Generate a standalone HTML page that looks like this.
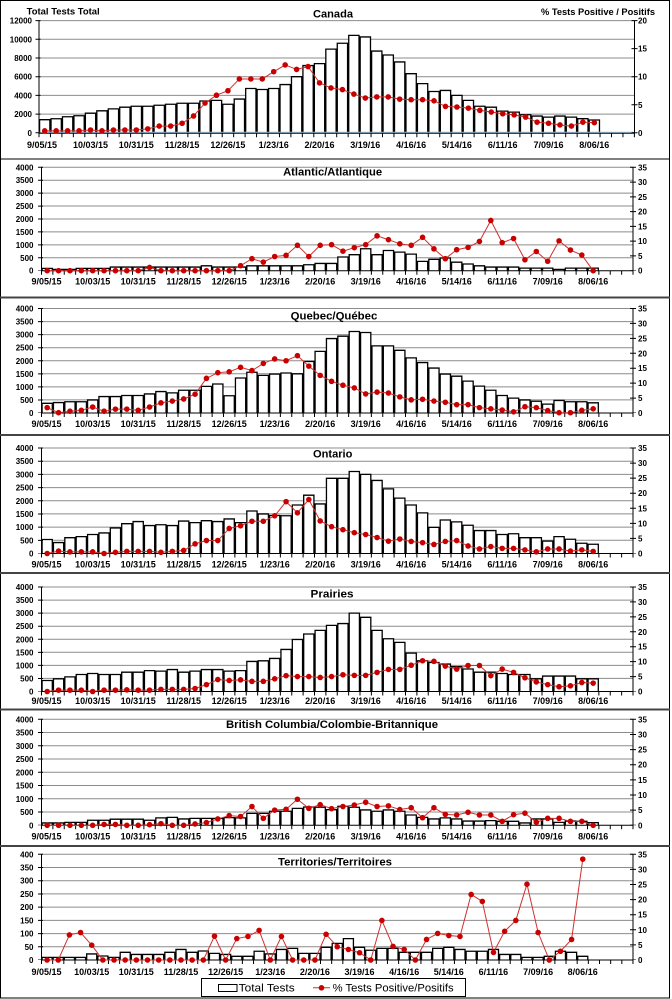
<!DOCTYPE html>
<html><head><meta charset="utf-8">
<style>
html,body{margin:0;padding:0;background:#fff;}
svg{display:block;}
text{font-family:"Liberation Sans",Arial,sans-serif;fill:#000;}
.b{fill:#fff;stroke:#000;stroke-width:1.3;vector-effect:non-scaling-stroke;}
.l{fill:none;stroke:#d03030;stroke-width:1;vector-effect:non-scaling-stroke;}
.d{fill:none;stroke:#c80000;stroke-width:5.6;stroke-linecap:round;vector-effect:non-scaling-stroke;}
.g{fill:none;stroke:#8c8c8c;stroke-width:1;}
.ax{fill:none;stroke:#000;stroke-width:1;}
.yl{font-size:8px;font-weight:bold;text-anchor:end;}
.yr{font-size:8px;font-weight:bold;}
.xl{font-size:9px;font-weight:bold;text-anchor:middle;}
.t{font-size:11.2px;font-weight:bold;text-anchor:middle;}
</style></head>
<body>
<svg width="672" height="999" viewBox="0 0 672 999" xmlns="http://www.w3.org/2000/svg">
<rect x="0" y="0" width="672" height="999" fill="#fff"/>
<!-- frame and dividers -->
<rect x="0.5" y="0.5" width="669" height="997.5" fill="none" stroke="#000" stroke-width="1"/>
<path d="M0 159H670" stroke="#000" stroke-width="1"/>
<path d="M0 297.5H670M0 435H670M0 573H670M0 709.5H670M0 846H670" stroke="#444" stroke-width="2"/>

<!-- ================= CANADA ================= -->
<text x="26.7" y="14.5" font-size="9.2" font-weight="bold" textLength="73" lengthAdjust="spacingAndGlyphs">Total Tests Total</text>
<text x="541" y="15" font-size="9.2" font-weight="bold" textLength="114" lengthAdjust="spacingAndGlyphs">% Tests Positive / Positifs</text>
<text class="t" x="333" y="17.3" font-size="11" textLength="40" lengthAdjust="spacingAndGlyphs">Canada</text>
<path class="g" d="M39 114.1H634.5M39 95.4H634.5M39 76.7H634.5M39 58H634.5M39 39.3H634.5M39 20.6H634.5"/>
<g transform="translate(39 132.8) scale(11.45 -0.935)">
<path class="b" d="M.05 0v14h.9V0M1.05 0v15h.9V0M2.05 0v17.2h.9V0M3.05 0v18.2h.9V0M4.05 0v21h.9V0M5.05 0v23.5h.9V0M6.05 0v25.6h.9V0M7.05 0v27.4h.9V0M8.05 0v28.4h.9V0M9.05 0v28.4h.9V0M10.05 0v29.5h.9V0M11.05 0v30.5h.9V0M12.05 0v31.6h.9V0M13.05 0v31.6h.9V0M14.05 0v34h.9V0M15.05 0v34.7h.9V0M16.05 0v30.5h.9V0M17.05 0v36.1h.9V0M18.05 0v47.4h.9V0M19.05 0v46.3h.9V0M20.05 0v47.4h.9V0M21.05 0v51.6h.9V0M22.05 0v60h.9V0M23.05 0v71.9h.9V0M24.05 0v74h.9V0M25.05 0v89.5h.9V0M26.05 0v95.8h.9V0M27.05 0v104.2h.9V0M28.05 0v102.5h.9V0M29.05 0v87.4h.9V0M30.05 0v83.2h.9V0M31.05 0v75.8h.9V0M32.05 0v63.2h.9V0M33.05 0v52.6h.9V0M34.05 0v44.2h.9V0M35.05 0v45.3h.9V0M36.05 0v40h.9V0M37.05 0v34.7h.9V0M38.05 0v28.4h.9V0M39.05 0v27.4h.9V0M40.05 0v23.2h.9V0M41.05 0v22.1h.9V0M42.05 0v19.3h.9V0M43.05 0v17.9h.9V0M44.05 0v16.8h.9V0M45.05 0v17.9h.9V0M46.05 0v16.8h.9V0M47.05 0v15.1h.9V0M48.05 0v13.7h.9V0"/>
</g>
<path d="M39 132.2H634.5" stroke="#9cc2e5" stroke-width="1"/>
<path class="ax" d="M39 20.6V133.3H634.5V20.6"/>
<path d="M38.5 135.3H635" stroke="#000" stroke-width="4" stroke-dasharray="1 10.45"/>
<path d="M38 20.1V133.3" stroke="#000" stroke-width="5" stroke-dasharray="1 17.7"/>
<path d="M634.5 20.1V133.3" stroke="#000" stroke-width="6" stroke-dasharray="1 27.05"/>
<g transform="translate(39 132.8) scale(11.45 -5.61)">
<polyline class="l" points=".5,.35 1.5,.35 2.5,.35 3.5,.35 4.5,.5 5.5,.35 6.5,.5 7.5,.5 8.5,.5 9.5,.7 10.5,1.2 11.5,1.2 12.5,1.7 13.5,3 14.5,5.3 15.5,6.7 16.5,7.5 17.5,9.6 18.5,9.6 19.5,9.6 20.5,10.9 21.5,12.1 22.5,11.3 23.5,11.8 24.5,8.9 25.5,8 26.5,7.7 27.5,6.9 28.5,6.2 29.5,6.4 30.5,6.4 31.5,6 32.5,5.9 33.5,5.9 34.5,5.7 35.5,4.7 36.5,4.6 37.5,4.4 38.5,4 39.5,3.7 40.5,3.4 41.5,3.2 42.5,2.8 43.5,1.9 44.5,1.7 45.5,1.4 46.5,1.2 47.5,1.9 48.5,1.8"/>
<path class="d" d="M.5 .35h0M1.5 .35h0M2.5 .35h0M3.5 .35h0M4.5 .5h0M5.5 .35h0M6.5 .5h0M7.5 .5h0M8.5 .5h0M9.5 .7h0M10.5 1.2h0M11.5 1.2h0M12.5 1.7h0M13.5 3h0M14.5 5.3h0M15.5 6.7h0M16.5 7.5h0M17.5 9.6h0M18.5 9.6h0M19.5 9.6h0M20.5 10.9h0M21.5 12.1h0M22.5 11.3h0M23.5 11.8h0M24.5 8.9h0M25.5 8h0M26.5 7.7h0M27.5 6.9h0M28.5 6.2h0M29.5 6.4h0M30.5 6.4h0M31.5 6h0M32.5 5.9h0M33.5 5.9h0M34.5 5.7h0M35.5 4.7h0M36.5 4.6h0M37.5 4.4h0M38.5 4h0M39.5 3.7h0M40.5 3.4h0M41.5 3.2h0M42.5 2.8h0M43.5 1.9h0M44.5 1.7h0M45.5 1.4h0M46.5 1.2h0M47.5 1.9h0M48.5 1.8h0"/>
</g>
<text class="yl" font-size="8.5"><tspan x="32" y="135.8">0</tspan><tspan x="32" y="117.1">2000</tspan><tspan x="32" y="98.4">4000</tspan><tspan x="32" y="79.7">6000</tspan><tspan x="32" y="61">8000</tspan><tspan x="32" y="42.3">10000</tspan><tspan x="32" y="23.6">12000</tspan></text>
<text class="yr"><tspan x="638" y="135.8">0</tspan><tspan x="638" y="107.75">5</tspan><tspan x="638" y="79.7">10</tspan><tspan x="638" y="51.65">15</tspan><tspan x="638" y="23.6">20</tspan></text>
<text class="xl" y="147.8"><tspan x="42">9/05/15</tspan><tspan x="90.5">10/03/15</tspan><tspan x="136.3">10/31/15</tspan><tspan x="182.1">11/28/15</tspan><tspan x="227.9">12/26/15</tspan><tspan x="273.7">1/23/16</tspan><tspan x="319.5">2/20/16</tspan><tspan x="365.3">3/19/16</tspan><tspan x="411.1">4/16/16</tspan><tspan x="456.9">5/14/16</tspan><tspan x="502.7">6/11/16</tspan><tspan x="548.5">7/09/16</tspan><tspan x="594.3">8/06/16</tspan></text>

<!-- ================= ATLANTIC ================= -->
<path class="g" d="M41.5 257.8H633M41.5 244.85H633M41.5 231.9H633M41.5 219H633M41.5 206.05H633M41.5 193.1H633M41.5 180.2H633M41.5 167.3H633"/>
<g transform="translate(41.5 270.7) scale(11.375 -2.585)">
<path class="b" d="M.05 0v.9h.9V0M1.05 0v.5h.9V0M2.05 0v.5h.9V0M3.05 0v.9h.9V0M4.05 0v.9h.9V0M5.05 0v.9h.9V0M6.05 0v1.4h.9V0M7.05 0v1.4h.9V0M8.05 0v1.4h.9V0M9.05 0v1.4h.9V0M10.05 0v1.4h.9V0M11.05 0v1.4h.9V0M12.05 0v1.4h.9V0M13.05 0v1.4h.9V0M14.05 0v1.9h.9V0M15.05 0v1.4h.9V0M16.05 0v1.4h.9V0M17.05 0v1.4h.9V0M18.05 0v1.9h.9V0M19.05 0v1.9h.9V0M20.05 0v1.9h.9V0M21.05 0v1.9h.9V0M22.05 0v1.9h.9V0M23.05 0v2.3h.9V0M24.05 0v2.8h.9V0M25.05 0v2.8h.9V0M26.05 0v5.3h.9V0M27.05 0v6.2h.9V0M28.05 0v8.5h.9V0M29.05 0v6.2h.9V0M30.05 0v7.8h.9V0M31.05 0v7.2h.9V0M32.05 0v6.4h.9V0M33.05 0v3.6h.9V0M34.05 0v4.4h.9V0M35.05 0v4.9h.9V0M36.05 0v3.3h.9V0M37.05 0v2.6h.9V0M38.05 0v1.9h.9V0M39.05 0v1.4h.9V0M40.05 0v1.4h.9V0M41.05 0v1.4h.9V0M42.05 0v1h.9V0M43.05 0v1h.9V0M44.05 0v1h.9V0M45.05 0v.5h.9V0M46.05 0v1h.9V0M47.05 0v1h.9V0M48.05 0v1h.9V0"/>
</g>
<path class="ax" d="M41.5 167.3V270.7H633V167.3"/>
<path d="M41 272.7H633.5" stroke="#000" stroke-width="4" stroke-dasharray="1 10.375"/>
<path d="M40.5 166.8V270.7" stroke="#000" stroke-width="5" stroke-dasharray="1 11.925"/>
<path d="M633 166.8V270.7" stroke="#000" stroke-width="6" stroke-dasharray="1 13.771"/>
<g transform="translate(41.5 270.7) scale(11.375 -2.954)">
<polyline class="l" points=".5,0 1.5,0 2.5,0 3.5,0 4.5,0 5.5,0 6.5,0 7.5,0 8.5,0 9.5,1.1 10.5,0 11.5,0 12.5,0 13.5,0 14.5,0 15.5,0 16.5,0 17.5,1.7 18.5,4.05 19.5,2.9 20.5,4.8 21.5,5.2 22.5,8.6 23.5,4.8 24.5,8.6 25.5,8.8 26.5,6.6 27.5,7.8 28.5,8.8 29.5,11.8 30.5,10.5 31.5,9.1 32.5,8.6 33.5,11.3 34.5,7.4 35.5,4.05 36.5,7.1 37.5,7.9 38.5,9.9 39.5,17 40.5,9.5 41.5,10.9 42.5,3.7 43.5,6.5 44.5,3.2 45.5,10.1 46.5,7 47.5,5.3 48.5,0"/>
<path class="d" d="M.5 0h0M1.5 0h0M2.5 0h0M3.5 0h0M4.5 0h0M5.5 0h0M6.5 0h0M7.5 0h0M8.5 0h0M9.5 1.1h0M10.5 0h0M11.5 0h0M12.5 0h0M13.5 0h0M14.5 0h0M15.5 0h0M16.5 0h0M17.5 1.7h0M18.5 4.05h0M19.5 2.9h0M20.5 4.8h0M21.5 5.2h0M22.5 8.6h0M23.5 4.8h0M24.5 8.6h0M25.5 8.8h0M26.5 6.6h0M27.5 7.8h0M28.5 8.8h0M29.5 11.8h0M30.5 10.5h0M31.5 9.1h0M32.5 8.6h0M33.5 11.3h0M34.5 7.4h0M35.5 4.05h0M36.5 7.1h0M37.5 7.9h0M38.5 9.9h0M39.5 17h0M40.5 9.5h0M41.5 10.9h0M42.5 3.7h0M43.5 6.5h0M44.5 3.2h0M45.5 10.1h0M46.5 7h0M47.5 5.3h0M48.5 0h0"/>
</g>
<text class="t" x="332.6" y="175.5" textLength="99" lengthAdjust="spacingAndGlyphs">Atlantic/Atlantique</text>
<text class="yl"><tspan x="33.5" y="273.7">0</tspan><tspan x="33.5" y="260.8">500</tspan><tspan x="33.5" y="247.85">1000</tspan><tspan x="33.5" y="234.9">1500</tspan><tspan x="33.5" y="222">2000</tspan><tspan x="33.5" y="209.05">2500</tspan><tspan x="33.5" y="196.1">3000</tspan><tspan x="33.5" y="183.2">3500</tspan><tspan x="33.5" y="170.3">4000</tspan></text>
<text class="yr"><tspan x="638" y="273.7">0</tspan><tspan x="638" y="258.9">5</tspan><tspan x="638" y="244.2">10</tspan><tspan x="638" y="229.4">15</tspan><tspan x="638" y="214.6">20</tspan><tspan x="638" y="199.9">25</tspan><tspan x="638" y="185.1">30</tspan><tspan x="638" y="170.3">35</tspan></text>
<text class="xl" y="284.4"><tspan x="46.5">9/05/15</tspan><tspan x="92.7">10/03/15</tspan><tspan x="138.2">10/31/15</tspan><tspan x="183.7">11/28/15</tspan><tspan x="229.2">12/26/15</tspan><tspan x="274.7">1/23/16</tspan><tspan x="320.2">2/20/16</tspan><tspan x="365.7">3/19/16</tspan><tspan x="411.2">4/16/16</tspan><tspan x="456.7">5/14/16</tspan><tspan x="502.2">6/11/16</tspan><tspan x="547.7">7/09/16</tspan><tspan x="593.2">8/06/16</tspan></text>

<!-- ================= QUEBEC ================= -->
<path class="g" d="M41.5 399.9H633M41.5 386.9H633M41.5 373.8H633M41.5 360.75H633M41.5 347.7H633M41.5 334.6H633M41.5 321.6H633M41.5 308.5H633"/>
<g transform="translate(41.5 413) scale(11.375 -2.6125)">
<path class="b" d="M.05 0v3.7h.9V0M1.05 0v4h.9V0M2.05 0v4.3h.9V0M3.05 0v4.3h.9V0M4.05 0v5h.9V0M5.05 0v6.3h.9V0M6.05 0v6.3h.9V0M7.05 0v6.7h.9V0M8.05 0v6.7h.9V0M9.05 0v7.3h.9V0M10.05 0v8.2h.9V0M11.05 0v7.7h.9V0M12.05 0v8.7h.9V0M13.05 0v8.7h.9V0M14.05 0v10.2h.9V0M15.05 0v11.1h.9V0M16.05 0v6.6h.9V0M17.05 0v13.4h.9V0M18.05 0v15.6h.9V0M19.05 0v14.4h.9V0M20.05 0v14.9h.9V0M21.05 0v15.3h.9V0M22.05 0v15h.9V0M23.05 0v19.7h.9V0M24.05 0v23.6h.9V0M25.05 0v28.5h.9V0M26.05 0v29.4h.9V0M27.05 0v31.2h.9V0M28.05 0v30.8h.9V0M29.05 0v25.7h.9V0M30.05 0v25.7h.9V0M31.05 0v24h.9V0M32.05 0v21.1h.9V0M33.05 0v19.3h.9V0M34.05 0v17.2h.9V0M35.05 0v14.9h.9V0M36.05 0v14.1h.9V0M37.05 0v12.2h.9V0M38.05 0v10.3h.9V0M39.05 0v8.7h.9V0M40.05 0v6.7h.9V0M41.05 0v5.7h.9V0M42.05 0v5h.9V0M43.05 0v4.5h.9V0M44.05 0v3.4h.9V0M45.05 0v4.8h.9V0M46.05 0v4.3h.9V0M47.05 0v4.3h.9V0M48.05 0v3.9h.9V0"/>
</g>
<path class="ax" d="M41.5 308.5V413H633V308.5"/>
<path d="M41 415H633.5" stroke="#000" stroke-width="4" stroke-dasharray="1 10.375"/>
<path d="M40.5 308V413" stroke="#000" stroke-width="5" stroke-dasharray="1 12.0625"/>
<path d="M633 308V413" stroke="#000" stroke-width="6" stroke-dasharray="1 13.929"/>
<g transform="translate(41.5 413) scale(11.375 -2.986)">
<polyline class="l" points=".5,1.8 1.5,.1 2.5,.6 3.5,.9 4.5,2 5.5,.6 6.5,1.3 7.5,1.3 8.5,.9 9.5,2 10.5,3.4 11.5,4 12.5,4.7 13.5,6.3 14.5,11.6 15.5,13.5 16.5,13.8 17.5,15.3 18.5,14.2 19.5,16.6 20.5,18.1 21.5,17.5 22.5,19.2 23.5,15.7 24.5,12.6 25.5,10.6 26.5,9.3 27.5,8.4 28.5,6.4 29.5,7 30.5,6.7 31.5,5.4 32.5,4.4 33.5,4.6 34.5,4 35.5,3.6 36.5,2.8 37.5,2.8 38.5,1.8 39.5,1.4 40.5,1 41.5,.4 42.5,2.1 43.5,1.8 44.5,.8 45.5,.1 46.5,.1 47.5,.9 48.5,1.4"/>
<path class="d" d="M.5 1.8h0M1.5 .1h0M2.5 .6h0M3.5 .9h0M4.5 2h0M5.5 .6h0M6.5 1.3h0M7.5 1.3h0M8.5 .9h0M9.5 2h0M10.5 3.4h0M11.5 4h0M12.5 4.7h0M13.5 6.3h0M14.5 11.6h0M15.5 13.5h0M16.5 13.8h0M17.5 15.3h0M18.5 14.2h0M19.5 16.6h0M20.5 18.1h0M21.5 17.5h0M22.5 19.2h0M23.5 15.7h0M24.5 12.6h0M25.5 10.6h0M26.5 9.3h0M27.5 8.4h0M28.5 6.4h0M29.5 7h0M30.5 6.7h0M31.5 5.4h0M32.5 4.4h0M33.5 4.6h0M34.5 4h0M35.5 3.6h0M36.5 2.8h0M37.5 2.8h0M38.5 1.8h0M39.5 1.4h0M40.5 1h0M41.5 .4h0M42.5 2.1h0M43.5 1.8h0M44.5 .8h0M45.5 .1h0M46.5 .1h0M47.5 .9h0M48.5 1.4h0"/>
</g>
<text class="t" x="334" y="319.3" textLength="86.6" lengthAdjust="spacingAndGlyphs">Quebec/Québec</text>
<text class="yl"><tspan x="33.5" y="416">0</tspan><tspan x="33.5" y="402.9">500</tspan><tspan x="33.5" y="389.9">1000</tspan><tspan x="33.5" y="376.8">1500</tspan><tspan x="33.5" y="363.75">2000</tspan><tspan x="33.5" y="350.7">2500</tspan><tspan x="33.5" y="337.6">3000</tspan><tspan x="33.5" y="324.6">3500</tspan><tspan x="33.5" y="311.5">4000</tspan></text>
<text class="yr"><tspan x="638" y="416">0</tspan><tspan x="638" y="401.1">5</tspan><tspan x="638" y="386.1">10</tspan><tspan x="638" y="371.2">15</tspan><tspan x="638" y="356.3">20</tspan><tspan x="638" y="341.4">25</tspan><tspan x="638" y="326.4">30</tspan><tspan x="638" y="311.5">35</tspan></text>
<text class="xl" y="427"><tspan x="46.5">9/05/15</tspan><tspan x="92.7">10/03/15</tspan><tspan x="138.2">10/31/15</tspan><tspan x="183.7">11/28/15</tspan><tspan x="229.2">12/26/15</tspan><tspan x="274.7">1/23/16</tspan><tspan x="320.2">2/20/16</tspan><tspan x="365.7">3/19/16</tspan><tspan x="411.2">4/16/16</tspan><tspan x="456.7">5/14/16</tspan><tspan x="502.2">6/11/16</tspan><tspan x="547.7">7/09/16</tspan><tspan x="593.2">8/06/16</tspan></text>

<!-- ================= ONTARIO ================= -->
<path class="g" d="M41.5 540.3H633M41.5 527.1H633M41.5 513.9H633M41.5 500.75H633M41.5 487.6H633M41.5 474.4H633M41.5 461.2H633M41.5 448H633"/>
<g transform="translate(41.5 553.5) scale(11.375 -2.6375)">
<path class="b" d="M.05 0v5.3h.9V0M1.05 0v4.15h.9V0M2.05 0v6h.9V0M3.05 0v6.4h.9V0M4.05 0v7.2h.9V0M5.05 0v7.8h.9V0M6.05 0v9.7h.9V0M7.05 0v11.3h.9V0M8.05 0v12.1h.9V0M9.05 0v10.6h.9V0M10.05 0v10.9h.9V0M11.05 0v10.6h.9V0M12.05 0v12.3h.9V0M13.05 0v11.7h.9V0M14.05 0v12.45h.9V0M15.05 0v12.1h.9V0M16.05 0v13.1h.9V0M17.05 0v11.7h.9V0M18.05 0v16.1h.9V0M19.05 0v15h.9V0M20.05 0v14.4h.9V0M21.05 0v14.3h.9V0M22.05 0v18.4h.9V0M23.05 0v22.1h.9V0M24.05 0v18.8h.9V0M25.05 0v28.5h.9V0M26.05 0v28.5h.9V0M27.05 0v31.1h.9V0M28.05 0v30h.9V0M29.05 0v27.7h.9V0M30.05 0v24.5h.9V0M31.05 0v21h.9V0M32.05 0v18.4h.9V0M33.05 0v15.4h.9V0M34.05 0v9.9h.9V0M35.05 0v12.7h.9V0M36.05 0v12h.9V0M37.05 0v10.7h.9V0M38.05 0v8.7h.9V0M39.05 0v8.7h.9V0M40.05 0v7.2h.9V0M41.05 0v7.5h.9V0M42.05 0v6h.9V0M43.05 0v6h.9V0M44.05 0v4.7h.9V0M45.05 0v6.4h.9V0M46.05 0v5.4h.9V0M47.05 0v3.9h.9V0M48.05 0v3.5h.9V0"/>
</g>
<path class="ax" d="M41.5 448V553.5H633V448"/>
<path d="M41 555.5H633.5" stroke="#000" stroke-width="4" stroke-dasharray="1 10.375"/>
<path d="M40.5 447.5V553.5" stroke="#000" stroke-width="5" stroke-dasharray="1 12.1875"/>
<path d="M633 447.5V553.5" stroke="#000" stroke-width="6" stroke-dasharray="1 14.071"/>
<g transform="translate(41.5 553.5) scale(11.375 -3.014)">
<polyline class="l" points=".5,0 1.5,.8 2.5,.55 3.5,.55 4.5,.55 5.5,0 6.5,.4 7.5,.7 8.5,.7 9.5,.7 10.5,.4 11.5,.7 12.5,1 13.5,3.2 14.5,4.3 15.5,4.3 16.5,8.3 17.5,9.2 18.5,10.7 19.5,10.7 20.5,12.5 21.5,17.2 22.5,13.5 23.5,17.9 24.5,10.8 25.5,8.9 26.5,7.9 27.5,6.9 28.5,6.3 29.5,5.3 30.5,4.1 31.5,4.8 32.5,4 33.5,3.6 34.5,3 35.5,4 36.5,4.3 37.5,2.5 38.5,1.5 39.5,2.3 40.5,1.7 41.5,1.7 42.5,1.2 43.5,.55 44.5,1.5 45.5,1.5 46.5,.8 47.5,1.2 48.5,.7"/>
<path class="d" d="M.5 0h0M1.5 .8h0M2.5 .55h0M3.5 .55h0M4.5 .55h0M5.5 0h0M6.5 .4h0M7.5 .7h0M8.5 .7h0M9.5 .7h0M10.5 .4h0M11.5 .7h0M12.5 1h0M13.5 3.2h0M14.5 4.3h0M15.5 4.3h0M16.5 8.3h0M17.5 9.2h0M18.5 10.7h0M19.5 10.7h0M20.5 12.5h0M21.5 17.2h0M22.5 13.5h0M23.5 17.9h0M24.5 10.8h0M25.5 8.9h0M26.5 7.9h0M27.5 6.9h0M28.5 6.3h0M29.5 5.3h0M30.5 4.1h0M31.5 4.8h0M32.5 4h0M33.5 3.6h0M34.5 3h0M35.5 4h0M36.5 4.3h0M37.5 2.5h0M38.5 1.5h0M39.5 2.3h0M40.5 1.7h0M41.5 1.7h0M42.5 1.2h0M43.5 .55h0M44.5 1.5h0M45.5 1.5h0M46.5 .8h0M47.5 1.2h0M48.5 .7h0"/>
</g>
<text class="t" x="332.7" y="457.3" textLength="39.4" lengthAdjust="spacingAndGlyphs">Ontario</text>
<text class="yl"><tspan x="33.5" y="556.5">0</tspan><tspan x="33.5" y="543.3">500</tspan><tspan x="33.5" y="530.1">1000</tspan><tspan x="33.5" y="516.9">1500</tspan><tspan x="33.5" y="503.75">2000</tspan><tspan x="33.5" y="490.6">2500</tspan><tspan x="33.5" y="477.4">3000</tspan><tspan x="33.5" y="464.2">3500</tspan><tspan x="33.5" y="451">4000</tspan></text>
<text class="yr"><tspan x="638" y="556.5">0</tspan><tspan x="638" y="541.4">5</tspan><tspan x="638" y="526.4">10</tspan><tspan x="638" y="511.3">15</tspan><tspan x="638" y="496.2">20</tspan><tspan x="638" y="481.1">25</tspan><tspan x="638" y="466.1">30</tspan><tspan x="638" y="451">35</tspan></text>
<text class="xl" y="567.6"><tspan x="46.5">9/05/15</tspan><tspan x="92.7">10/03/15</tspan><tspan x="138.2">10/31/15</tspan><tspan x="183.7">11/28/15</tspan><tspan x="229.2">12/26/15</tspan><tspan x="274.7">1/23/16</tspan><tspan x="320.2">2/20/16</tspan><tspan x="365.7">3/19/16</tspan><tspan x="411.2">4/16/16</tspan><tspan x="456.7">5/14/16</tspan><tspan x="502.2">6/11/16</tspan><tspan x="547.7">7/09/16</tspan><tspan x="593.2">8/06/16</tspan></text>

<!-- ================= PRAIRIES ================= -->
<path class="g" d="M41.5 678.4H633M41.5 665.4H633M41.5 652.3H633M41.5 639.25H633M41.5 626.2H633M41.5 613.1H633M41.5 600.1H633M41.5 587H633"/>
<g transform="translate(41.5 691.5) scale(11.375 -2.6125)">
<path class="b" d="M.05 0v4.2h.9V0M1.05 0v4.85h.9V0M2.05 0v5.6h.9V0M3.05 0v6.5h.9V0M4.05 0v6.9h.9V0M5.05 0v6.5h.9V0M6.05 0v6.5h.9V0M7.05 0v7.4h.9V0M8.05 0v7.4h.9V0M9.05 0v8h.9V0M10.05 0v7.8h.9V0M11.05 0v8.4h.9V0M12.05 0v7.4h.9V0M13.05 0v7.8h.9V0M14.05 0v8.4h.9V0M15.05 0v8.4h.9V0M16.05 0v7.8h.9V0M17.05 0v8h.9V0M18.05 0v11.5h.9V0M19.05 0v11.75h.9V0M20.05 0v12.65h.9V0M21.05 0v16.1h.9V0M22.05 0v19.9h.9V0M23.05 0v22h.9V0M24.05 0v23.4h.9V0M25.05 0v25.3h.9V0M26.05 0v26h.9V0M27.05 0v30h.9V0M28.05 0v28.4h.9V0M29.05 0v23.4h.9V0M30.05 0v20.2h.9V0M31.05 0v18.8h.9V0M32.05 0v14.7h.9V0M33.05 0v11.75h.9V0M34.05 0v11.1h.9V0M35.05 0v10.5h.9V0M36.05 0v9.5h.9V0M37.05 0v8.6h.9V0M38.05 0v7.4h.9V0M39.05 0v7.4h.9V0M40.05 0v6.9h.9V0M41.05 0v6.5h.9V0M42.05 0v6.5h.9V0M43.05 0v4.85h.9V0M44.05 0v5.9h.9V0M45.05 0v5.9h.9V0M46.05 0v5.9h.9V0M47.05 0v4.85h.9V0M48.05 0v4.85h.9V0"/>
</g>
<path class="ax" d="M41.5 587V691.5H633V587"/>
<path d="M41 693.5H633.5" stroke="#000" stroke-width="4" stroke-dasharray="1 10.375"/>
<path d="M40.5 586.5V691.5" stroke="#000" stroke-width="5" stroke-dasharray="1 12.0625"/>
<path d="M633 586.5V691.5" stroke="#000" stroke-width="6" stroke-dasharray="1 13.929"/>
<g transform="translate(41.5 691.5) scale(11.375 -2.986)">
<polyline class="l" points=".5,0 1.5,.45 2.5,.45 3.5,.45 4.5,0 5.5,.45 6.5,.45 7.5,.55 8.5,.45 9.5,.45 10.5,.7 11.5,.7 12.5,.7 13.5,1 14.5,2.3 15.5,4 16.5,3.7 17.5,3.9 18.5,3.4 19.5,3.4 20.5,4.25 21.5,5.3 22.5,5 23.5,5 24.5,4.7 25.5,5 26.5,5.6 27.5,5.4 28.5,5.4 29.5,6.4 30.5,7.4 31.5,7.4 32.5,8.8 33.5,10.3 34.5,10.1 35.5,8.5 36.5,7.5 37.5,8.7 38.5,8.7 39.5,5.3 40.5,7.5 41.5,6.4 42.5,4.6 43.5,3.2 44.5,2.3 45.5,1.6 46.5,1.9 47.5,3 48.5,2.8"/>
<path class="d" d="M.5 0h0M1.5 .45h0M2.5 .45h0M3.5 .45h0M4.5 0h0M5.5 .45h0M6.5 .45h0M7.5 .55h0M8.5 .45h0M9.5 .45h0M10.5 .7h0M11.5 .7h0M12.5 .7h0M13.5 1h0M14.5 2.3h0M15.5 4h0M16.5 3.7h0M17.5 3.9h0M18.5 3.4h0M19.5 3.4h0M20.5 4.25h0M21.5 5.3h0M22.5 5h0M23.5 5h0M24.5 4.7h0M25.5 5h0M26.5 5.6h0M27.5 5.4h0M28.5 5.4h0M29.5 6.4h0M30.5 7.4h0M31.5 7.4h0M32.5 8.8h0M33.5 10.3h0M34.5 10.1h0M35.5 8.5h0M36.5 7.5h0M37.5 8.7h0M38.5 8.7h0M39.5 5.3h0M40.5 7.5h0M41.5 6.4h0M42.5 4.6h0M43.5 3.2h0M44.5 2.3h0M45.5 1.6h0M46.5 1.9h0M47.5 3h0M48.5 2.8h0"/>
</g>
<text class="t" x="332" y="597.5" textLength="43" lengthAdjust="spacingAndGlyphs">Prairies</text>
<text class="yl"><tspan x="33.5" y="694.5">0</tspan><tspan x="33.5" y="681.4">500</tspan><tspan x="33.5" y="668.4">1000</tspan><tspan x="33.5" y="655.3">1500</tspan><tspan x="33.5" y="642.25">2000</tspan><tspan x="33.5" y="629.2">2500</tspan><tspan x="33.5" y="616.1">3000</tspan><tspan x="33.5" y="603.1">3500</tspan><tspan x="33.5" y="590">4000</tspan></text>
<text class="yr"><tspan x="638" y="694.5">0</tspan><tspan x="638" y="679.6">5</tspan><tspan x="638" y="664.6">10</tspan><tspan x="638" y="649.7">15</tspan><tspan x="638" y="634.8">20</tspan><tspan x="638" y="619.9">25</tspan><tspan x="638" y="604.9">30</tspan><tspan x="638" y="590">35</tspan></text>
<text class="xl" y="704"><tspan x="46.5">9/05/15</tspan><tspan x="92.7">10/03/15</tspan><tspan x="138.2">10/31/15</tspan><tspan x="183.7">11/28/15</tspan><tspan x="229.2">12/26/15</tspan><tspan x="274.7">1/23/16</tspan><tspan x="320.2">2/20/16</tspan><tspan x="365.7">3/19/16</tspan><tspan x="411.2">4/16/16</tspan><tspan x="456.7">5/14/16</tspan><tspan x="502.2">6/11/16</tspan><tspan x="547.7">7/09/16</tspan><tspan x="593.2">8/06/16</tspan></text>

<!-- ================= BRITISH COLUMBIA ================= -->
<path class="g" d="M41.5 812.05H633M41.5 798.8H633M41.5 785.55H633M41.5 772.3H633M41.5 759.05H633M41.5 745.8H633M41.5 732.55H633M41.5 719.3H633"/>
<g transform="translate(41.5 825.3) scale(11.375 -2.65)">
<path class="b" d="M.05 0v.9h.9V0M1.05 0v.9h.9V0M2.05 0v1.1h.9V0M3.05 0v1.1h.9V0M4.05 0v1.9h.9V0M5.05 0v1.9h.9V0M6.05 0v2.3h.9V0M7.05 0v2.3h.9V0M8.05 0v2.3h.9V0M9.05 0v1.9h.9V0M10.05 0v2.8h.9V0M11.05 0v3h.9V0M12.05 0v2.4h.9V0M13.05 0v2.6h.9V0M14.05 0v2.6h.9V0M15.05 0v2.6h.9V0M16.05 0v2.9h.9V0M17.05 0v2.8h.9V0M18.05 0v4.5h.9V0M19.05 0v4.5h.9V0M20.05 0v5.3h.9V0M21.05 0v5.3h.9V0M22.05 0v6.4h.9V0M23.05 0v6.9h.9V0M24.05 0v6.8h.9V0M25.05 0v5.9h.9V0M26.05 0v7.2h.9V0M27.05 0v6.8h.9V0M28.05 0v5.8h.9V0M29.05 0v5.3h.9V0M30.05 0v5.8h.9V0M31.05 0v5.3h.9V0M32.05 0v3.9h.9V0M33.05 0v3h.9V0M34.05 0v2.4h.9V0M35.05 0v2.8h.9V0M36.05 0v2.4h.9V0M37.05 0v1.6h.9V0M38.05 0v1.6h.9V0M39.05 0v1.75h.9V0M40.05 0v1.5h.9V0M41.05 0v1.5h.9V0M42.05 0v.9h.9V0M43.05 0v2.4h.9V0M44.05 0v2.4h.9V0M45.05 0v1.1h.9V0M46.05 0v1.6h.9V0M47.05 0v1.5h.9V0M48.05 0v1h.9V0"/>
</g>
<path class="ax" d="M41.5 719.3V825.3H633V719.3"/>
<path d="M41 827.3H633.5" stroke="#000" stroke-width="4" stroke-dasharray="1 10.375"/>
<path d="M40.5 718.8V825.3" stroke="#000" stroke-width="5" stroke-dasharray="1 12.25"/>
<path d="M633 718.8V825.3" stroke="#000" stroke-width="6" stroke-dasharray="1 14.143"/>
<g transform="translate(41.5 825.3) scale(11.375 -3.029)">
<polyline class="l" points=".5,0 1.5,0 2.5,0 3.5,0 4.5,0 5.5,.3 6.5,.3 7.5,0 8.5,0 9.5,.2 10.5,.55 11.5,0 12.5,0 13.5,.45 14.5,.9 15.5,2.1 16.5,3.2 17.5,2.9 18.5,6.2 19.5,2.3 20.5,5 21.5,5.3 22.5,8.6 23.5,5.6 24.5,6.8 25.5,5.5 26.5,6.2 27.5,6.7 28.5,7.6 29.5,6.2 30.5,6.4 31.5,5.2 32.5,5.8 33.5,2.5 34.5,5.8 35.5,3.6 36.5,3.4 37.5,4.3 38.5,3.4 39.5,3.4 40.5,1.3 41.5,3.5 42.5,4 43.5,1 44.5,2.3 45.5,2.3 46.5,1.3 47.5,1.3 48.5,0"/>
<path class="d" d="M.5 0h0M1.5 0h0M2.5 0h0M3.5 0h0M4.5 0h0M5.5 .3h0M6.5 .3h0M7.5 0h0M8.5 0h0M9.5 .2h0M10.5 .55h0M11.5 0h0M12.5 0h0M13.5 .45h0M14.5 .9h0M15.5 2.1h0M16.5 3.2h0M17.5 2.9h0M18.5 6.2h0M19.5 2.3h0M20.5 5h0M21.5 5.3h0M22.5 8.6h0M23.5 5.6h0M24.5 6.8h0M25.5 5.5h0M26.5 6.2h0M27.5 6.7h0M28.5 7.6h0M29.5 6.2h0M30.5 6.4h0M31.5 5.2h0M32.5 5.8h0M33.5 2.5h0M34.5 5.8h0M35.5 3.6h0M36.5 3.4h0M37.5 4.3h0M38.5 3.4h0M39.5 3.4h0M40.5 1.3h0M41.5 3.5h0M42.5 4h0M43.5 1h0M44.5 2.3h0M45.5 2.3h0M46.5 1.3h0M47.5 1.3h0M48.5 0h0"/>
</g>
<text class="t" x="332" y="728" textLength="212" lengthAdjust="spacingAndGlyphs">British Columbia/Colombie-Britannique</text>
<text class="yl"><tspan x="33.5" y="828.3">0</tspan><tspan x="33.5" y="815.05">500</tspan><tspan x="33.5" y="801.8">1000</tspan><tspan x="33.5" y="788.55">1500</tspan><tspan x="33.5" y="775.3">2000</tspan><tspan x="33.5" y="762.05">2500</tspan><tspan x="33.5" y="748.8">3000</tspan><tspan x="33.5" y="735.55">3500</tspan><tspan x="33.5" y="722.3">4000</tspan></text>
<text class="yr"><tspan x="638" y="828.3">0</tspan><tspan x="638" y="813.2">5</tspan><tspan x="638" y="798">10</tspan><tspan x="638" y="782.9">15</tspan><tspan x="638" y="767.7">20</tspan><tspan x="638" y="752.6">25</tspan><tspan x="638" y="737.4">30</tspan><tspan x="638" y="722.3">35</tspan></text>
<text class="xl" y="839.3"><tspan x="46.5">9/05/15</tspan><tspan x="92.7">10/03/15</tspan><tspan x="138.2">10/31/15</tspan><tspan x="183.7">11/28/15</tspan><tspan x="229.2">12/26/15</tspan><tspan x="274.7">1/23/16</tspan><tspan x="320.2">2/20/16</tspan><tspan x="365.7">3/19/16</tspan><tspan x="411.2">4/16/16</tspan><tspan x="456.7">5/14/16</tspan><tspan x="502.2">6/11/16</tspan><tspan x="547.7">7/09/16</tspan><tspan x="593.2">8/06/16</tspan></text>

<!-- ================= TERRITORIES ================= -->
<path class="g" d="M41.5 946.8H633M41.5 933.6H633M41.5 920.4H633M41.5 907.15H633M41.5 893.9H633M41.5 880.7H633M41.5 867.5H633M41.5 854.3H633"/>
<g transform="translate(41.5 960) scale(11.16 -0.26425)">
<path class="b" d="M.05 0v10h.9V0M1.05 0v10h.9V0M2.05 0v10h.9V0M3.05 0v10h.9V0M4.05 0v23h.9V0M5.05 0v15h.9V0M6.05 0v10h.9V0M7.05 0v29h.9V0M8.05 0v21h.9V0M9.05 0v21h.9V0M10.05 0v21h.9V0M11.05 0v29h.9V0M12.05 0v40h.9V0M13.05 0v29h.9V0M14.05 0v34h.9V0M15.05 0v25h.9V0M16.05 0v21h.9V0M17.05 0v14h.9V0M18.05 0v14h.9V0M19.05 0v33h.9V0M20.05 0v23h.9V0M21.05 0v40h.9V0M22.05 0v44h.9V0M23.05 0v25h.9V0M24.05 0v25h.9V0M25.05 0v48h.9V0M26.05 0v63h.9V0M27.05 0v81h.9V0M28.05 0v48h.9V0M29.05 0v37h.9V0M30.05 0v44h.9V0M31.05 0v44h.9V0M32.05 0v29h.9V0M33.05 0v29h.9V0M34.05 0v29h.9V0M35.05 0v44h.9V0M36.05 0v48h.9V0M37.05 0v40h.9V0M38.05 0v33h.9V0M39.05 0v33h.9V0M40.05 0v40h.9V0M41.05 0v21h.9V0M42.05 0v21h.9V0M43.05 0v10h.9V0M44.05 0v10h.9V0M45.05 0v14h.9V0M46.05 0v33h.9V0M47.05 0v29h.9V0M48.05 0v14h.9V0"/>
</g>
<path class="ax" d="M41.5 854.3V960H633V854.3"/>
<path d="M41 962H633.5" stroke="#000" stroke-width="4" stroke-dasharray="1 10.16"/>
<path d="M40.5 853.8V960" stroke="#000" stroke-width="5" stroke-dasharray="1 12.2125"/>
<path d="M633 853.8V960" stroke="#000" stroke-width="6" stroke-dasharray="1 14.1"/>
<g transform="translate(41.5 960) scale(11.16 -3.02)">
<polyline class="l" points=".5,0 1.5,0 2.5,8.3 3.5,9.1 4.5,4.9 5.5,0 6.5,0 7.5,0 8.5,0 9.5,0 10.5,0 11.5,0 12.5,0 13.5,0 14.5,0 15.5,7.9 16.5,0 17.5,7.1 18.5,7.8 19.5,9.8 20.5,0 21.5,7.8 22.5,0 23.5,0 24.5,0 25.5,8.5 26.5,4.4 27.5,3.5 28.5,2.4 29.5,0 30.5,13.1 31.5,4.5 32.5,3.5 33.5,0 34.5,6.8 35.5,8.8 36.5,8.1 37.5,7.8 38.5,21.7 39.5,19.4 40.5,2.5 41.5,9.5 42.5,13.1 43.5,25.1 44.5,9.1 45.5,0 46.5,2.9 47.5,6.8 48.5,33.4"/>
<path class="d" d="M.5 0h0M1.5 0h0M2.5 8.3h0M3.5 9.1h0M4.5 4.9h0M5.5 0h0M6.5 0h0M7.5 0h0M8.5 0h0M9.5 0h0M10.5 0h0M11.5 0h0M12.5 0h0M13.5 0h0M14.5 0h0M15.5 7.9h0M16.5 0h0M17.5 7.1h0M18.5 7.8h0M19.5 9.8h0M20.5 0h0M21.5 7.8h0M22.5 0h0M23.5 0h0M24.5 0h0M25.5 8.5h0M26.5 4.4h0M27.5 3.5h0M28.5 2.4h0M29.5 0h0M30.5 13.1h0M31.5 4.5h0M32.5 3.5h0M33.5 0h0M34.5 6.8h0M35.5 8.8h0M36.5 8.1h0M37.5 7.8h0M38.5 21.7h0M39.5 19.4h0M40.5 2.5h0M41.5 9.5h0M42.5 13.1h0M43.5 25.1h0M44.5 9.1h0M45.5 0h0M46.5 2.9h0M47.5 6.8h0M48.5 33.4h0"/>
</g>
<text class="t" x="335" y="865.6" textLength="114" lengthAdjust="spacingAndGlyphs">Territories/Territoires</text>
<text class="yl"><tspan x="33.5" y="963">0</tspan><tspan x="33.5" y="949.8">50</tspan><tspan x="33.5" y="936.6">100</tspan><tspan x="33.5" y="923.4">150</tspan><tspan x="33.5" y="910.15">200</tspan><tspan x="33.5" y="896.9">250</tspan><tspan x="33.5" y="883.7">300</tspan><tspan x="33.5" y="870.5">350</tspan><tspan x="33.5" y="857.3">400</tspan></text>
<text class="yr"><tspan x="638" y="963">0</tspan><tspan x="638" y="947.9">5</tspan><tspan x="638" y="932.8">10</tspan><tspan x="638" y="917.7">15</tspan><tspan x="638" y="902.6">20</tspan><tspan x="638" y="887.5">25</tspan><tspan x="638" y="872.4">30</tspan><tspan x="638" y="857.3">35</tspan></text>
<text class="xl" y="975"><tspan x="46.5">9/05/15</tspan><tspan x="91.7">10/03/15</tspan><tspan x="136.3">10/31/15</tspan><tspan x="181">11/28/15</tspan><tspan x="225.6">12/26/15</tspan><tspan x="270.3">1/23/16</tspan><tspan x="314.9">2/20/16</tspan><tspan x="359.5">3/19/16</tspan><tspan x="404.2">4/16/16</tspan><tspan x="448.8">5/14/16</tspan><tspan x="493.4">6/11/16</tspan><tspan x="538.1">7/09/16</tspan><tspan x="582.7">8/06/16</tspan></text>

<!-- ================= LEGEND ================= -->
<rect x="201.5" y="978.5" width="264" height="18" fill="#fff" stroke="#000" stroke-width="1"/>
<rect x="218.5" y="984.5" width="18.5" height="7" fill="#fff" stroke="#000" stroke-width="1"/>
<text x="238.7" y="991.6" font-size="11" textLength="56" lengthAdjust="spacingAndGlyphs">Total Tests</text>
<path d="M313 987.8H330" stroke="#d03030" stroke-width="1"/>
<circle cx="321.5" cy="987.8" r="2.8" fill="#c80000"/>
<text x="332.6" y="991.6" font-size="11" textLength="121" lengthAdjust="spacingAndGlyphs">% Tests Positive/Positifs</text>
</svg>
</body></html>
